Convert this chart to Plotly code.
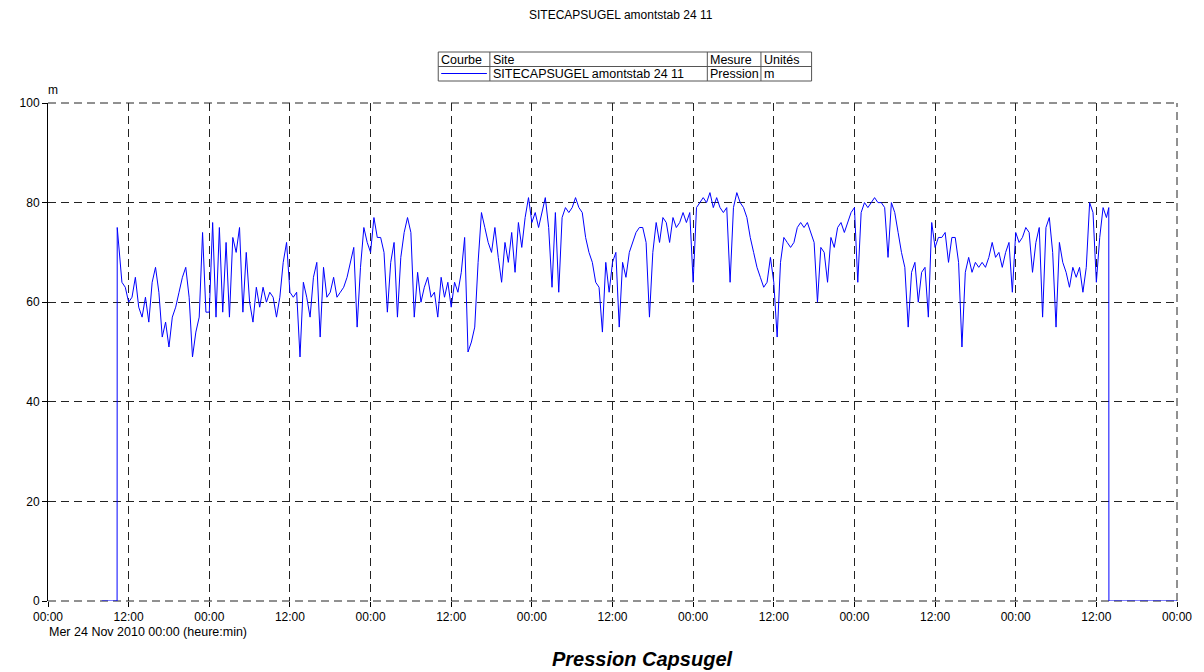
import pandas as pd
import plotly.graph_objects as go

# ---------------- data ----------------
base_date = "2010-11-24 00:00"
x_end_hours = 168

# zeros before the sensor starts, then the first reading
lead_hours = [8.0, 10.28, 10.3]
lead_values = [0, 0, 75]

# half-hourly readings from 10:30 (hour 10.5) to hour 157.5
main_start_hour = 10.5
main_step_hours = 0.5
pressure = [
    72, 64, 63, 60, 61, 65, 59, 57, 61, 56, 64, 67,   # 10.5 - 16
    62, 53, 56, 51, 57, 59, 62, 65, 67, 61, 49, 54,   # 16.5 - 22
    57, 74, 58, 58, 76, 57, 75, 58, 72, 57, 73, 70,   # 22.5 - 28
    75, 58, 70, 60, 56, 63, 59, 63, 60, 62, 61, 57,   # 28.5 - 34
    61, 68, 72, 62, 61, 62, 49, 64, 61, 57, 65, 68,   # 34.5 - 40
    53, 67, 61, 62, 65, 61, 62, 63, 65, 68, 71, 55,   # 40.5 - 46
    67, 75, 72, 70, 77, 73, 73, 70, 58, 68, 72, 57,   # 46.5 - 52
    69, 74, 77, 74, 57, 66, 60, 63, 65, 61, 62, 57,   # 52.5 - 58
    65, 61, 64, 59, 64, 62, 66, 73, 50, 52, 55, 68,   # 58.5 - 64
    78, 75, 72, 70, 75, 69, 64, 72, 68, 74, 66, 76,   # 64.5 - 70
    71, 77, 81, 76, 78, 75, 78, 81, 75, 63, 78, 62,   # 70.5 - 76
    77, 79, 78, 79, 81, 79, 78, 73, 70, 68, 64, 63,   # 76.5 - 82
    54, 68, 62, 68, 70, 55, 68, 65, 70, 72, 74, 75,   # 82.5 - 88
    75, 72, 57, 70, 76, 72, 77, 76, 72, 77, 75, 76,   # 88.5 - 94
    78, 76, 78, 64, 79, 80, 81, 80, 82, 79, 81, 79,   # 94.5 - 100
    78, 79, 64, 79, 82, 80, 79, 77, 73, 70, 67, 65,   # 100.5 - 106
    63, 64, 69, 64, 53, 68, 73, 72, 71, 72, 75, 76,   # 106.5 - 112
    75, 76, 74, 72, 60, 71, 70, 64, 73, 71, 75, 76,   # 112.5 - 118
    74, 76, 78, 79, 64, 78, 80, 79, 80, 81, 80, 80,   # 118.5 - 124
    79, 69, 80, 78, 74, 70, 67, 55, 66, 68, 60, 66,   # 124.5 - 130
    67, 57, 76, 71, 73, 73, 74, 68, 73, 73, 68, 51,   # 130.5 - 136
    66, 69, 66, 68, 67, 68, 67, 69, 72, 69, 70, 67,   # 136.5 - 142
    70, 72, 62, 74, 72, 73, 75, 74, 66, 72, 75, 57,   # 142.5 - 148
    75, 77, 70, 55, 72, 68, 66, 63, 67, 65, 67, 62,   # 148.5 - 154
    67, 80, 78, 64, 73, 79, 77,                       # 154.5 - 157.5
]

# last reading, then the drop to zero until the end of the period
tail_hours = [157.85, 157.87, 168.0]
tail_values = [79, 0, 0]

y_ticks = [0, 20, 40, 60, 80, 100]

title_top = "SITECAPSUGEL amontstab 24 11"
legend_headers = ["Courbe", "Site", "Mesure", "Unités"]
legend_row = ["SITECAPSUGEL amontstab 24 11", "Pression", "m"]
date_caption = "Mer 24 Nov 2010 00:00 (heure:min)"
bottom_title = "Pression Capsugel"
unit_label = "m"

# ---------------- build series ----------------
t0 = pd.Timestamp(base_date)
main_hours = [main_start_hour + i * main_step_hours for i in range(len(pressure))]
all_hours = lead_hours + main_hours + tail_hours
all_values = lead_values + pressure + tail_values
times = [t0 + pd.Timedelta(hours=h) for h in all_hours]

BLUE = "#0000FF"
FONT = "Liberation Sans, Arial, sans-serif"
GRID = "#222222"
DASH = "8px,5px"

fig = go.Figure()
fig.add_trace(go.Scatter(
    x=times, y=all_values, mode="lines",
    line=dict(color=BLUE, width=1),
    showlegend=False, hoverinfo="skip",
))

# page layout (the html body has an 8px margin)
OFF = 8
W, H = 1204 - OFF, 672 - OFF
# plot area in page pixels
L, R, T, B = 41, 1178, 103, 601


def px(xp):
    return (xp - L) / (R - L)


def py(yp):
    return (B - yp) / (B - T)


fig.update_layout(
    width=W, height=H,
    margin=dict(l=L - OFF, r=W - (R - OFF), t=T - OFF, b=H - (B - OFF), pad=0),
    paper_bgcolor="white", plot_bgcolor="white",
    font=dict(family=FONT, size=12, color="black"),
    showlegend=False,
)

fig.update_xaxes(
    type="date",
    range=[t0, t0 + pd.Timedelta(hours=x_end_hours)],
    dtick=12 * 3600 * 1000,
    tick0=t0,
    tickformat="%H:%M",
    showgrid=True, gridcolor=GRID, gridwidth=1, griddash=DASH,
    ticks="outside", ticklen=5, tickcolor="black",
    showline=False, zeroline=False,
    tickfont=dict(family=FONT, size=12, color="black"),
)
fig.update_yaxes(
    range=[0, 100],
    tickvals=y_ticks,
    showgrid=True, gridcolor=GRID, gridwidth=1, griddash=DASH,
    ticks="outside", ticklen=5, tickcolor="black",
    showline=True, linecolor="black", linewidth=1,
    zeroline=False,
    tickfont=dict(family=FONT, size=12, color="black"),
)

shapes = []
# dashed grid lines on the plot edges (bottom, top, right)
edge = dict(color=GRID, width=1, dash=DASH)
shapes.append(dict(type="line", xref="paper", yref="paper", x0=0, x1=1, y0=0, y1=0,
                   line=edge, layer="below"))
shapes.append(dict(type="line", xref="paper", yref="paper", x0=0, x1=1, y0=1, y1=1,
                   line=edge, layer="below"))
shapes.append(dict(type="line", xref="paper", yref="paper", x0=1, x1=1, y0=0, y1=1,
                   line=edge, layer="below"))

# legend table
tx0, tx1 = 434, 810
ty0, ty1, tymid = 52, 81, 66.5
col_lines = [486, 705, 759]
line_style = dict(color="#555555", width=1)
shapes.append(dict(type="rect", xref="paper", yref="paper",
                   x0=px(tx0), x1=px(tx1), y0=py(ty1), y1=py(ty0),
                   line=line_style, fillcolor="rgba(0,0,0,0)", layer="above"))
shapes.append(dict(type="line", xref="paper", yref="paper",
                   x0=px(tx0), x1=px(tx1), y0=py(tymid), y1=py(tymid),
                   line=line_style))
for c in col_lines:
    shapes.append(dict(type="line", xref="paper", yref="paper",
                       x0=px(c), x1=px(c), y0=py(ty1), y1=py(ty0),
                       line=line_style))
shapes.append(dict(type="line", xref="paper", yref="paper",
                   x0=px(437), x1=px(483), y0=py(73.5), y1=py(73.5),
                   line=dict(color=BLUE, width=1.2), layer="above"))
fig.update_layout(shapes=shapes)

ann = []
hdr_x = [435, 487, 706, 760]
for txt, xp in zip(legend_headers, hdr_x):
    ann.append(dict(text=txt, x=px(xp), y=py(59.5), xref="paper", yref="paper",
                    xanchor="left", yanchor="middle", showarrow=False,
                    font=dict(family=FONT, size=12.5, color="black")))
for txt, xp in zip(legend_row, hdr_x[1:]):
    ann.append(dict(text=txt, x=px(xp), y=py(74.5), xref="paper", yref="paper",
                    xanchor="left", yanchor="middle", showarrow=False,
                    font=dict(family=FONT, size=12.5, color="black")))
ann.append(dict(text=title_top, x=px(618), y=py(15), xref="paper", yref="paper",
                xanchor="center", yanchor="middle", showarrow=False,
                font=dict(family=FONT, size=12, color="black")))
ann.append(dict(text=unit_label, x=px(46), y=py(90), xref="paper", yref="paper",
                xanchor="center", yanchor="middle", showarrow=False,
                font=dict(family=FONT, size=12, color="black")))
ann.append(dict(text=date_caption, x=px(40), y=py(632), xref="paper", yref="paper",
                xanchor="left", yanchor="middle", showarrow=False,
                font=dict(family=FONT, size=12.5, color="black")))
ann.append(dict(text="<b><i>" + bottom_title + "</i></b>", x=px(640), y=py(659),
                xref="paper", yref="paper",
                xanchor="center", yanchor="middle", showarrow=False,
                font=dict(family=FONT, size=20, color="black")))
fig.update_layout(annotations=ann)

fig.write_html("out.html")
